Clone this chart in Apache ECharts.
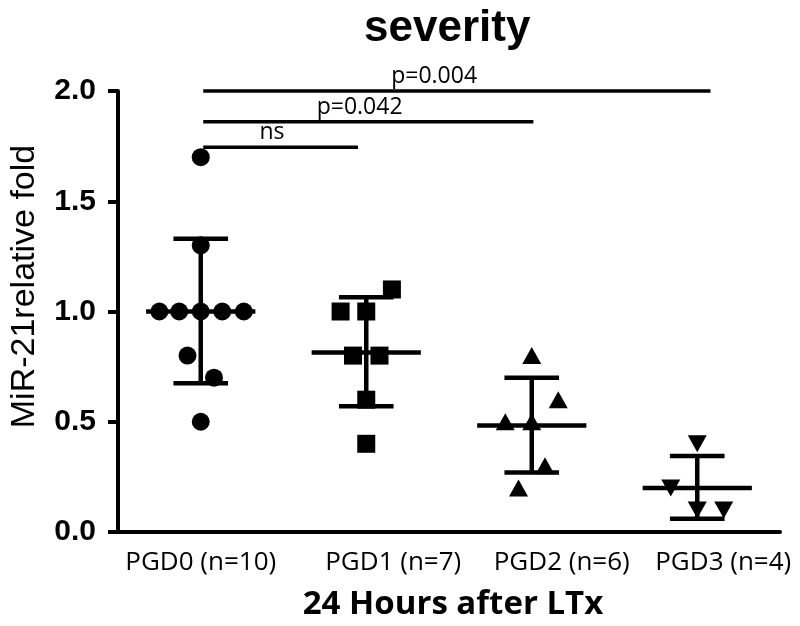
<!DOCTYPE html>
<html>
<head>
<meta charset="utf-8">
<script src="https://cdn.jsdelivr.net/npm/echarts@6/dist/echarts.min.js"></script>
<style>html,body{margin:0;padding:0;background:#fff}#c{width:800px;height:626px}</style>
</head>
<body>
<div id="c"></div>
<script>
// ---- data ----
const categories = ['PGD0 (n=10)', 'PGD1 (n=7)', 'PGD2 (n=6)', 'PGD3 (n=4)'];
const yTicks = [0, 0.5, 1.0, 1.5, 2.0];

const pgd0Values = [1.7, 1.3, 1.0, 1.0, 1.0, 1.0, 1.0, 0.8, 0.7, 0.5];
const pgd0Jitter = [0, 0, -0.25, -0.13, 0, 0.13, 0.26, -0.08, 0.08, 0];
const pgd1Values = [1.1, 1.0, 1.0, 0.8, 0.8, 0.6, 0.4];
const pgd1Jitter = [0.155, -0.155, 0, -0.08, 0.08, 0, 0];
const pgd2Values = [0.8, 0.6, 0.5, 0.5, 0.3, 0.2];
const pgd2Jitter = [0, 0.16, -0.16, 0, 0.08, -0.08];
const pgd3Values = [0.4, 0.2, 0.1, 0.1];
const pgd3Jitter = [0, -0.16, 0, 0.16];

const means = [1.0, 0.814, 0.483, 0.2];
const sdHigh = [1.33, 1.065, 0.70, 0.345];
const sdLow = [0.675, 0.57, 0.27, 0.06];

const bracketLabels = ['ns', 'p=0.042', 'p=0.004'];
const bracketFrom = [0.015, 0.015, 0.015];
const bracketTo = [0.95, 2.01, 3.08];
const bracketLevel = [1.745, 1.86, 2.0];
const bracketLabelAt = [0.43, 0.96, 1.41];

// ---- build ----
function pts(vals, jit, gi) { return vals.map((v, k) => [gi + jit[k], v]); }
const errData = means.map((m, i) => [i, m, sdHigh[i], sdLow[i]]);
const brData = bracketLabels.map((t, i) => [bracketFrom[i], bracketTo[i], bracketLevel[i], bracketLabelAt[i]]);

const LW = 4.5;
const markStyle = {color: '#000', opacity: 1};
const catFont = {color: '#000', fontFamily: 'Open Sans', fontSize: 26};
const labelShift = [0, 54, 60, 52]; // left padding (px) -> visual shift of half
const rich = {};
labelShift.forEach((p, i) => { rich['l' + i] = Object.assign({padding: [0, 0, 0, p]}, catFont); });

const chart = echarts.init(document.getElementById('c'), null, {renderer: 'canvas'});
chart.setOption({
  animation: false,
  backgroundColor: '#fff',
  title: {
    text: 'severity', left: 359, top: 2,
    textStyle: {fontFamily: 'Liberation Sans', fontWeight: 'bold', fontSize: 44, color: '#000'}
  },
  grid: {left: 113, right: 20, top: 91, bottom: 93, containLabel: false},
  xAxis: [{
    type: 'category', data: categories, boundaryGap: true,
    axisLine: {lineStyle: {color: '#000', width: 4}},
    axisTick: {alignWithLabel: true, length: 10, lineStyle: {color: '#000', width: 4}},
    axisLabel: Object.assign({interval: 0, margin: 18, rich: rich,
      formatter: (v, i) => '{l' + i + '|' + v + '}'}, catFont),
    name: '24 Hours after LTx', nameLocation: 'middle', nameGap: 56,
    nameTextStyle: {color: '#000', fontFamily: 'Open Sans', fontWeight: 'bold', fontSize: 33, padding: [0, 0, 0, 8]}
  }, {
    type: 'value', min: -0.5, max: 3.5, show: false
  }],
  yAxis: {
    type: 'value', min: 0, max: 2, interval: 0.5,
    splitLine: {show: false},
    axisLine: {show: true, onZero: false, lineStyle: {color: '#000', width: 4}},
    axisTick: {show: true, length: 10, lineStyle: {color: '#000', width: 4}},
    axisLabel: {color: '#000', fontFamily: 'Liberation Sans', fontWeight: 'bold', fontSize: 30, margin: 22,
      formatter: v => v.toFixed(1)},
    name: 'MiR-21relative fold', nameLocation: 'middle', nameGap: 76, nameRotate: 90,
    nameTextStyle: {color: '#000', fontFamily: 'Liberation Sans', fontSize: 34, padding: [0, 0, 0, 50]}
  },
  series: [
    {type: 'scatter', xAxisIndex: 1, symbol: 'circle', symbolSize: 18, itemStyle: markStyle, data: pts(pgd0Values, pgd0Jitter, 0)},
    {type: 'scatter', xAxisIndex: 1, symbol: 'rect', symbolSize: 18, itemStyle: markStyle, data: pts(pgd1Values, pgd1Jitter, 1)},
    {type: 'scatter', xAxisIndex: 1, symbol: 'triangle', symbolSize: [19, 17], itemStyle: markStyle, data: pts(pgd2Values, pgd2Jitter, 2)},
    {type: 'scatter', xAxisIndex: 1, symbol: 'triangle', symbolRotate: 180, symbolSize: [19, 17], itemStyle: markStyle, data: pts(pgd3Values, pgd3Jitter, 3)},
    {
      type: 'custom', xAxisIndex: 1, data: errData,
      renderItem: function (params, api) {
        const x = api.value(0);
        const c = api.coord([x, api.value(1)]);
        const hi = api.coord([x, api.value(2)]);
        const lo = api.coord([x, api.value(3)]);
        const mL = api.coord([x - 0.33, api.value(1)]);
        const mR = api.coord([x + 0.33, api.value(1)]);
        const cL = api.coord([x - 0.165, api.value(2)]);
        const cR = api.coord([x + 0.165, api.value(2)]);
        const st = {stroke: '#000', lineWidth: LW};
        return {type: 'group', children: [
          {type: 'line', shape: {x1: mL[0], y1: c[1], x2: mR[0], y2: c[1]}, style: st},
          {type: 'line', shape: {x1: hi[0], y1: hi[1], x2: lo[0], y2: lo[1]}, style: st},
          {type: 'line', shape: {x1: cL[0], y1: hi[1], x2: cR[0], y2: hi[1]}, style: st},
          {type: 'line', shape: {x1: cL[0], y1: lo[1], x2: cR[0], y2: lo[1]}, style: st}
        ]};
      }
    },
    {
      type: 'custom', xAxisIndex: 1, data: brData,
      renderItem: function (params, api) {
        const a = api.coord([api.value(0), api.value(2)]);
        const b = api.coord([api.value(1), api.value(2)]);
        const t = api.coord([api.value(3), api.value(2)]);
        return {type: 'group', children: [
          {type: 'line', shape: {x1: a[0], y1: a[1], x2: b[0], y2: b[1]}, style: {stroke: '#000', lineWidth: 3.5}},
          {type: 'text', x: t[0], y: t[1] - 3, style: {text: bracketLabels[params.dataIndex], fill: '#000',
            font: '23px "Open Sans"', align: 'center', verticalAlign: 'bottom'}}
        ]};
      }
    }
  ]
});
</script>
</body>
</html>
